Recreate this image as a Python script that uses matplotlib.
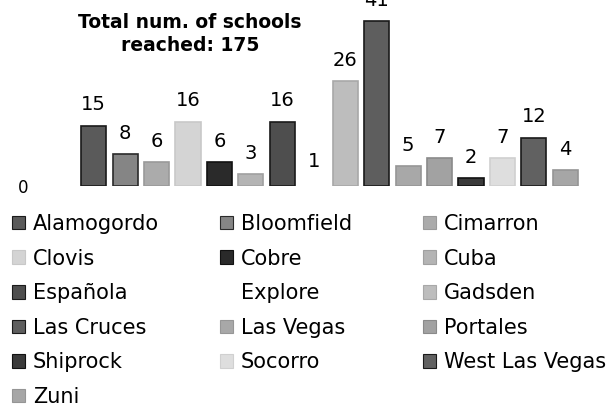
import matplotlib
matplotlib.use("Agg")
import matplotlib.pyplot as plt
from matplotlib.patches import Patch

plt.rcParams['font.family'] = ['DejaVu Sans']

schools = ["Alamogordo", "Bloomfield", "Cimarron", "Clovis", "Cobre", "Cuba",
           "Española", "Explore", "Gadsden", "Las Cruces", "Las Vegas", "Portales",
           "Shiprock", "Socorro", "West Las Vegas", "Zuni"]
reached = [15, 8, 6, 16, 6, 3, 16, 1, 26, 41, 5, 7, 2, 7, 12, 4]
title = "Total num. of schools\nreached: %d" % sum(reached)

# scanned greyscale look
fills = ["#5a5a5a", "#858585", "#ababab", "#d4d4d4", "#2a2a2a", "#b4b4b4",
         "#4e4e4e", "#ffffff", "#bdbdbd", "#5e5e5e", "#a8a8a8", "#a2a2a2",
         "#3a3a3a", "#dedede", "#616161", "#a6a6a6"]
edges = ["#1a1a1a", "#2a2a2a", "#9a9a9a", "#c8c8c8", "#111111", "#a0a0a0",
         "#1a1a1a", "#ffffff", "#a8a8a8", "#1a1a1a", "#969696", "#8a8a8a",
         "#111111", "#d0d0d0", "#1a1a1a", "#959595"]

fig = plt.figure(figsize=(6.15, 4.13), dpi=100)
ax = fig.add_axes([78 / 615, 1 - 186 / 413, 503 / 615, 181 / 413])

x = list(range(len(schools)))
bars = ax.bar(x, reached, width=0.8, color=fills, edgecolor=edges, linewidth=1.2)
for xi, v in zip(x, reached):
    ax.annotate(str(v), (xi, v), xytext=(0, 11), textcoords="offset points",
                ha="center", va="baseline", fontsize=14)

ax.set_xlim(-0.5, len(schools) - 0.5)
ax.set_ylim(0, 45)
ax.set_xticks([])
ax.set_yticks([0])
ax.tick_params(axis="y", length=0, pad=36, labelsize=12)
for s in ax.spines.values():
    s.set_visible(False)

fig.text(190 / 615, 1 - 34 / 413, title, ha="center", va="center",
         fontsize=13.5, fontweight="bold", linespacing=1.25)

handles = [Patch(facecolor=f, edgecolor=e, linewidth=0.8) for f, e in zip(fills, edges)]
col_x = [12, 220, 423]
for c in range(3):
    idx = list(range(c, len(schools), 3))
    fig.legend([handles[i] for i in idx], [schools[i] for i in idx],
               loc="upper left", bbox_to_anchor=(col_x[c] / 615, 1 - 214 / 413),
               frameon=False, fontsize=15, handlelength=0.63, handleheight=0.63,
               handletextpad=0.38, labelspacing=0.7, borderpad=0, borderaxespad=0)

fig.savefig("out.png", dpi=100)
